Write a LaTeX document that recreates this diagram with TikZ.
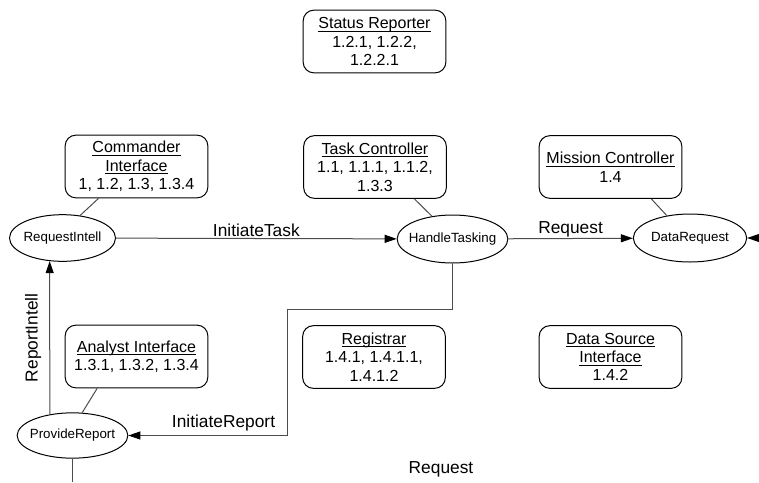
\documentclass[tikz,border=0pt]{standalone}
\usepackage{amsmath}
\usepackage{fontspec}
\setmainfont{Liberation Sans}
\usetikzlibrary{arrows.meta,shapes.geometric}

\begin{document}
\begin{tikzpicture}[x=0.75pt,y=0.75pt,yscale=-1,xscale=1,line width=0.75pt,
  objbox/.style={draw, rounded corners=8pt, minimum width=107pt, minimum height=47pt, inner sep=0pt, align=center, font=\fontsize{12}{13.8}\selectfont},
  usecase/.style={draw, ellipse, inner xsep=-6pt, inner ysep=0pt, minimum width=83pt, minimum height=35pt, font=\fontsize{10}{12}\selectfont},
  link/.style={draw=black!70},
  msg/.style={link, -{Triangle[length=9pt,width=6pt,color=black]}},
  msglabel/.style={font=\fontsize{13}{15}\selectfont, inner sep=1pt}]
%set diagram left start at 0, and has height of 482
\useasboundingbox (0,0) rectangle (759,482);

%Shape: Rounded Rect [status]
\node[objbox] (status) at (374.5,41.5) {\underline{\smash[b]{Status Reporter}}\\1.2.1, 1.2.2,\\1.2.2.1};
%Shape: Rounded Rect [commander]
\node[objbox] (commander) at (136.5,166.5) {\underline{\smash[b]{Commander}}\\\underline{\smash[b]{Interface}}\\1, 1.2, 1.3, 1.3.4};
%Shape: Rounded Rect [taskctl]
\node[objbox] (taskctl) at (375,167) {\underline{\smash[b]{Task Controller}}\\1.1, 1.1.1, 1.1.2,\\1.3.3};
%Shape: Rounded Rect [mission]
\node[objbox] (mission) at (610.5,167) {\underline{\smash[b]{Mission Controller}}\\1.4};
%Shape: Rounded Rect [analyst]
\node[objbox] (analyst) at (136.5,356.5) {\underline{\smash[b]{Analyst Interface}}\\1.3.1, 1.3.2, 1.3.4};
%Shape: Rounded Rect [registrar]
\node[objbox] (registrar) at (374,357) {\underline{\smash[b]{Registrar}}\\1.4.1, 1.4.1.1,\\1.4.1.2};
%Shape: Rounded Rect [datasrc]
\node[objbox] (datasrc) at (610.5,357) {\underline{\smash[b]{Data Source}}\\\underline{\smash[b]{Interface}}\\1.4.2};

%Shape: Ellipse [reqintell]
\node[usecase, minimum width=79.5pt] (reqintell) at (62.5,238) {RequestIntell};
%Shape: Ellipse [handle]
\node[usecase, minimum height=36pt] (handle) at (452.5,239) {HandleTasking};
%Shape: Ellipse [datareq]
\node[usecase, minimum width=85pt, minimum height=36pt] (datareq) at (690,238) {DataRequest};
%Shape: Ellipse [provide]
\node[usecase, minimum height=34pt] (provide) at (72.5,435.5) {ProvideReport};

%Straight Lines
\draw[link] (commander.-140) -- (reqintell.52);
\draw[link] (taskctl.-39) -- (handle.132);
\draw[link] (mission.-38) -- (datareq.136);
\draw[link] (analyst.-141) -- (provide.67);

%Arrows
\draw[msg] (reqintell) -- node[msglabel, above] {InitiateTask} (handle);
\draw[msg] (handle) -- node[msglabel, above] {Request} (datareq);
\coordinate (offright) at (759,238);
\draw[msg] (offright) -- (datareq);
\coordinate (turn) at (287,309);
\draw[msg] (handle.south) |- (turn) |- node[msglabel, above, pos=0.7, inner sep=3pt] {InitiateReport} (provide.east);
\draw[msg] (provide.137) -- node[msglabel, sloped, above, inner sep=6pt] {ReportIntell} (reqintell.-119);
\coordinate (offbottom) at (72.5,482);
\draw[link] (provide.south) -- (offbottom);

% Text Node
\node[msglabel] (reqlabel) at (441,469) {Request};

\end{tikzpicture}
\end{document}
